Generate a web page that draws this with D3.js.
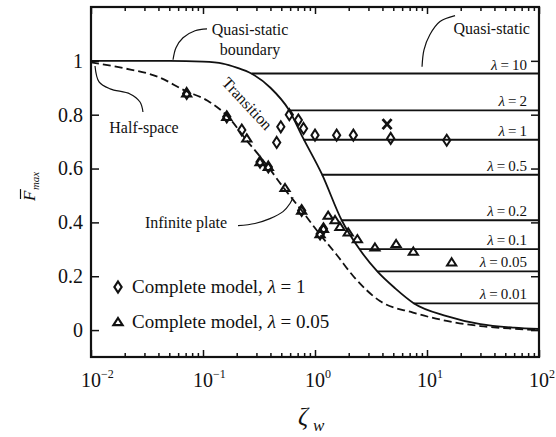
<!DOCTYPE html>
<html>
<head>
<meta charset="utf-8">
<script src="https://cdn.jsdelivr.net/npm/d3@7"></script>
<style>
body { margin: 0; background: #fff; }
text { font-family: "Liberation Serif", "Times New Roman", serif; fill: #111; }
</style>
</head>
<body>
<div id="chart"></div>
<script>
// quasi-static boundary (solid)
var boundaryZeta = [0.01, 0.05, 0.1, 0.15, 0.2, 0.27, 0.4, 0.58, 0.79, 1.15, 1.73, 2.5, 3.6, 5.2, 7.6, 15, 30, 60, 100];
var boundaryF    = [1, 1, 0.997, 0.99, 0.975, 0.953, 0.9, 0.82, 0.71, 0.58, 0.408, 0.30, 0.218, 0.155, 0.1, 0.052, 0.022, 0.009, 0.004];

// infinite plate (dashed)
var plateZeta = [0.01, 0.02, 0.04, 0.07, 0.11, 0.165, 0.25, 0.33, 0.4, 0.5, 0.76, 1.1, 1.56, 2.2, 3.8, 7.5, 15, 30, 60, 100];
var plateF    = [0.994, 0.972, 0.94, 0.888, 0.852, 0.795, 0.70, 0.64, 0.595, 0.54, 0.444, 0.357, 0.28, 0.2, 0.108, 0.065, 0.034, 0.015, 0.005, 0.0];

// quasi-static levels
var lambdaLabels    = ["10", "2", "1", "0.5", "0.2", "0.1", "0.05", "0.01"];
var lambdaF         = [0.953, 0.816, 0.707, 0.577, 0.408, 0.301, 0.218, 0.0995];
var lambdaStartZeta = [0.272, 0.58, 0.79, 1.15, 1.73, 2.5, 3.6, 7.6];

// complete model, lambda = 1 (diamonds)
var diamondZeta = [0.0715, 0.163, 0.222, 0.323, 0.383, 0.455, 0.495, 0.59, 0.71, 0.79, 1.0, 1.56, 2.2, 4.74, 15, 0.76, 1.11, 1.19];
var diamondF    = [0.879, 0.792, 0.743, 0.624, 0.606, 0.697, 0.755, 0.80, 0.78, 0.749, 0.724, 0.724, 0.724, 0.712, 0.705, 0.444, 0.357, 0.376];

// complete model, lambda = 0.05 (triangles)
var triangleZeta = [0.0715, 0.163, 0.246, 0.323, 0.383, 0.54, 0.76, 1.11, 1.19, 1.31, 1.51, 1.67, 1.98, 2.39, 3.43, 5.3, 7.55, 16.6];
var triangleF    = [0.879, 0.792, 0.712, 0.624, 0.606, 0.528, 0.444, 0.357, 0.376, 0.425, 0.409, 0.384, 0.363, 0.338, 0.307, 0.32, 0.292, 0.252];

var crossZeta = [4.4];
var crossF    = [0.765];

var svgWidth = 556, svgHeight = 437;
var margin = { top: 7, right: 17, bottom: 80, left: 91 };
var width = svgWidth - margin.left - margin.right;
var height = svgHeight - margin.top - margin.bottom;

var svg = d3.select("#chart").append("svg")
    .attr("width", svgWidth)
    .attr("height", svgHeight);

var g = svg.append("g").attr("transform", `translate(${margin.left},${margin.top})`);

var x = d3.scaleLog().domain([0.01, 100]).range([0, width]);
var y = d3.scaleLinear().domain([-0.1, 1.2]).range([height, 0]);

// ticks
var minorTicks = [];
[-2, -1, 0, 1].forEach(function(p) {
    for (var k = 2; k <= 9; k++) minorTicks.push(k * Math.pow(10, p));
});
var majorTicks = [0.01, 0.1, 1, 10, 100];
var yTicks = [0, 0.2, 0.4, 0.6, 0.8, 1];

function styleAxis(sel) {
    sel.select(".domain").remove();
    sel.selectAll("line").attr("stroke", "#111").attr("stroke-width", 1.5);
}

g.append("g").attr("transform", `translate(0,${height})`)
    .call(d3.axisBottom(x).tickValues(minorTicks).tickSize(-4).tickFormat("")).call(styleAxis);
g.append("g").attr("transform", `translate(0,${height})`)
    .call(d3.axisBottom(x).tickValues(majorTicks).tickSize(-7).tickFormat("")).call(styleAxis);
g.append("g")
    .call(d3.axisTop(x).tickValues(minorTicks).tickSize(-4).tickFormat("")).call(styleAxis);
g.append("g")
    .call(d3.axisTop(x).tickValues(majorTicks).tickSize(-7).tickFormat("")).call(styleAxis);

var leftAxis = g.append("g")
    .call(d3.axisLeft(y).tickValues(yTicks).tickSize(-8).tickPadding(8)
        .tickFormat(function(d) { return (d === 0 || d === 1) ? String(d) : d3.format(".1f")(d); }))
    .call(styleAxis);
leftAxis.selectAll("text")
    .attr("font-family", "Liberation Serif, serif")
    .attr("font-size", 20)
    .attr("fill", "#111");

g.append("g").attr("transform", `translate(${width},0)`)
    .call(d3.axisRight(y).tickValues(yTicks).tickSize(-8).tickFormat("")).call(styleAxis);

// x tick labels 10^n
var xLab = g.append("g").selectAll("g").data(majorTicks).enter().append("g")
    .attr("transform", d => `translate(${x(d)},${height + 30})`);
xLab.append("text").attr("text-anchor", "middle").attr("font-size", 20).text("10");
xLab.append("text").attr("x", 10).attr("y", -9).attr("font-size", 12)
    .text(d => String(Math.round(Math.log10(d))).replace("-", "\u2212"));

// frame
g.append("rect").attr("width", width).attr("height", height)
    .attr("fill", "none").attr("stroke", "#111").attr("stroke-width", 2.2);

// curves
var line = d3.line().x(d => x(d[0])).y(d => y(d[1])).curve(d3.curveMonotoneX);

g.append("path").datum(d3.zip(boundaryZeta, boundaryF))
    .attr("d", line).attr("fill", "none").attr("stroke", "#111").attr("stroke-width", 1.8);

g.append("path").datum(d3.zip(plateZeta, plateF))
    .attr("d", line).attr("fill", "none").attr("stroke", "#111").attr("stroke-width", 1.8)
    .attr("stroke-dasharray", "8,4");

// quasi-static horizontal lines
g.selectAll(".qs").data(lambdaF).enter().append("line")
    .attr("class", "qs")
    .attr("x1", (d, i) => x(lambdaStartZeta[i]))
    .attr("x2", x(100))
    .attr("y1", d => y(d)).attr("y2", d => y(d))
    .attr("stroke", "#111").attr("stroke-width", 1.8);

var lamText = g.selectAll(".lam").data(lambdaLabels).enter().append("text")
    .attr("class", "lam")
    .attr("x", width - 12)
    .attr("y", (d, i) => y(lambdaF[i]) - 4)
    .attr("text-anchor", "end")
    .attr("font-size", 15);
lamText.append("tspan").attr("font-style", "italic").text("\u03bb");
lamText.append("tspan").text(d => "\u2009=\u2009" + d);

// markers
var diamondPath = "M0,-5.5L3.6,0L0,5.5L-3.6,0Z";
var trianglePath = "M0,-4L4.6,3.2L-4.6,3.2Z";

g.selectAll(".dia").data(d3.zip(diamondZeta, diamondF)).enter().append("path")
    .attr("class", "dia")
    .attr("transform", d => `translate(${x(d[0])},${y(d[1])})`)
    .attr("d", diamondPath)
    .attr("fill", "none").attr("stroke", "#111").attr("stroke-width", 2);

g.selectAll(".tri").data(d3.zip(triangleZeta, triangleF)).enter().append("path")
    .attr("class", "tri")
    .attr("transform", d => `translate(${x(d[0])},${y(d[1])})`)
    .attr("d", trianglePath)
    .attr("fill", "none").attr("stroke", "#111").attr("stroke-width", 2);

g.selectAll(".crs").data(d3.zip(crossZeta, crossF)).enter().append("path")
    .attr("class", "crs")
    .attr("transform", d => `translate(${x(d[0])},${y(d[1])})`)
    .attr("d", "M-4.5,-5L4.5,5M-4.5,5L4.5,-5")
    .attr("fill", "none").attr("stroke", "#111").attr("stroke-width", 2.8);

// annotations
var leader = d3.line().x(d => x(d[0])).y(d => y(d[1])).curve(d3.curveCatmullRom);
function drawLeader(pts) {
    g.append("path").datum(pts).attr("d", leader)
        .attr("fill", "none").attr("stroke", "#111").attr("stroke-width", 1.2);
}
drawLeader([[0.1086, 1.119], [0.0849, 1.112], [0.0663, 1.086], [0.0574, 1.049], [0.054, 1.004]]);
drawLeader([[0.01086, 0.981], [0.0118, 0.922], [0.0148, 0.896], [0.0223, 0.877], [0.0274, 0.847], [0.0291, 0.81]]);
drawLeader([[17.8, 1.168], [13.06, 1.146], [10.6, 1.097], [9.4, 1.041], [9.03, 0.978]]);
drawLeader([[0.2054, 0.388], [0.291, 0.396], [0.396, 0.414], [0.518, 0.44], [0.598, 0.47], [0.637, 0.493]]);

function note(zeta, f, txt, anchor) {
    g.append("text").attr("x", x(zeta)).attr("y", y(f))
        .attr("text-anchor", anchor || "middle").attr("font-size", 16).text(txt);
}
note(0.263, 1.096, "Quasi-static");
note(0.263, 1.022, "boundary");
note(0.0297, 0.732, "Half-space");
note(0.0705, 0.379, "Infinite plate");
note(83, 1.10, "Quasi-static", "end");

g.append("text")
    .attr("transform", `translate(${x(0.247)},${y(0.84)}) rotate(47)`)
    .attr("y", 5).attr("text-anchor", "middle").attr("font-size", 16)
    .text("Transition");

// legend
var legend = svg.append("g");
var legendItems = [
    { path: diamondPath, val: "1" },
    { path: trianglePath, val: "0.05" }
];
legendItems.forEach(function(item, i) {
    var ly = 287 + i * 35;
    legend.append("path").attr("transform", `translate(118,${ly})`)
        .attr("d", item.path).attr("fill", "none").attr("stroke", "#111").attr("stroke-width", 2.2);
    var t = legend.append("text").attr("x", 132).attr("y", ly + 6).attr("font-size", 19);
    t.append("tspan").text("Complete model, ");
    t.append("tspan").attr("font-style", "italic").text("\u03bb");
    t.append("tspan").text(" = " + item.val);
});

// axis titles
svg.append("text").attr("x", 298).attr("y", 425)
    .attr("font-size", 25).attr("font-style", "italic").text("\u03b6");
svg.append("text").attr("x", 313).attr("y", 431)
    .attr("font-size", 17).attr("font-style", "italic").text("w");

var yTitle = svg.append("g").attr("transform", "translate(35,201) rotate(-90)");
var fText = yTitle.append("text").attr("x", 0).attr("y", 0)
    .attr("font-size", 17).attr("font-style", "italic").text("F");
var fw = fText.node().getComputedTextLength();
yTitle.append("text").attr("x", fw + 0.5).attr("y", 4)
    .attr("font-size", 11).attr("font-style", "italic").text("max");
yTitle.append("line").attr("x1", 2).attr("x2", fw + 1.5).attr("y1", -14.5).attr("y2", -14.5)
    .attr("stroke", "#111").attr("stroke-width", 1.2);
</script>
</body>
</html>
